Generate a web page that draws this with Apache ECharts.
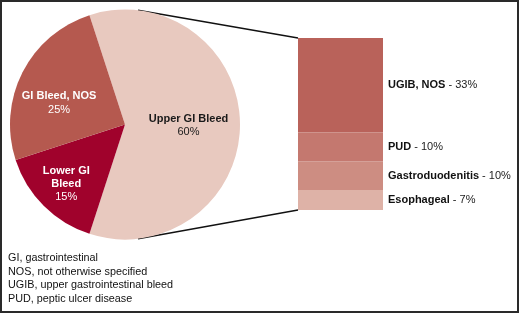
<!DOCTYPE html>
<html><head><meta charset="utf-8">
<script src="https://cdn.jsdelivr.net/npm/echarts@6/dist/echarts.min.js"></script>
<style>
html,body{margin:0;padding:0;background:#fff;}
#frame{position:absolute;left:0;top:0;width:519px;height:313px;box-sizing:border-box;border:2px solid #2a2a2a;}
#chart{position:absolute;left:0;top:0;width:520px;height:314px;}
</style></head>
<body>
<div id="chart"></div>
<div id="frame"></div>
<script>
// Pie data
const pieNames = ['Upper GI Bleed', 'Lower GI\nBleed', 'GI Bleed, NOS'];
const pieValues = [60, 15, 25];
// Breakdown of Upper GI Bleed
const barNames = ['UGIB, NOS', 'PUD', 'Gastroduodenitis', 'Esophageal'];
const barValues = [33, 10, 10, 7];
// Abbreviation notes
const notes = ['GI, gastrointestinal', 'NOS, not otherwise specified', 'UGIB, upper gastrointestinal bleed', 'PUD, peptic ulcer disease'];

const pieColors = ['#E8C9BF', '#A0022C', '#B5594F'];
const pieLabelColors = ['#1a1a1a', '#ffffff', '#ffffff'];
const pieLabelOffsets = [[3, 1], [-16, 17], [-12, 6]];
const barColors = ['#B9625A', '#C4786F', '#CD8D82', '#DEB2A7'];

const chart = echarts.init(document.getElementById('chart'), null, {renderer: 'canvas'});
const font = 'Liberation Sans, Arial, Helvetica, sans-serif';
const cx = 125, cy = 124.5, R = 115;
const fs = 11;

const pieData = pieNames.map((n, i) => ({
  name: n, value: pieValues[i],
  itemStyle: {color: pieColors[i]},
  label: {color: pieLabelColors[i], offset: pieLabelOffsets[i],
    rich: {n: {fontWeight: 'bold', fontSize: fs, color: pieLabelColors[i], lineHeight: 13, align: 'center', fontFamily: font},
           p: {fontSize: fs, color: pieLabelColors[i], lineHeight: 14, align: 'center', fontFamily: font}}}
}));

const barSeries = barNames.map((n, i) => ({
  type: 'bar', stack: 'ugib', name: n, barWidth: '100%',
  data: [barValues[i]],
  itemStyle: {color: barColors[i]},
  label: {show: true, position: 'right', distance: 5,
    formatter: '{n|' + n + '}{v| - ' + barValues[i] + '%}',
    rich: {n: {fontWeight: 'bold', fontSize: fs, color: '#111', fontFamily: font},
           v: {fontSize: fs, color: '#222', fontFamily: font}}}
}));

const option = {
  animation: false,
  textStyle: {fontFamily: font},
  grid: {left: 298, top: 38, width: 85, height: 172},
  xAxis: {type: 'category', data: ['UGIB'], show: false},
  yAxis: {type: 'value', min: 0, max: 60, inverse: true, show: false},
  series: [
    {type: 'pie', center: [cx, cy], radius: [0, R], startAngle: 108, clockwise: true,
     silent: true, label: {show: true, position: 'inside',
       formatter: p => '{n|' + p.name.split('\n').join('}\n{n|') + '}\n{p|' + p.value + '%}'},
     labelLine: {show: false}, itemStyle: {borderWidth: 0},
     data: pieData},
    ...barSeries
  ]
};
chart.setOption(option);

// connector lines from pie edge to bar
const topBar = chart.convertToPixel({xAxisIndex: 0, yAxisIndex: 0}, [0, 0]);
const botBar = chart.convertToPixel({xAxisIndex: 0, yAxisIndex: 0}, [0, barValues.reduce((a, b) => a + b, 0)]);
const barLeft = 298;
const ang = 6.5 * Math.PI / 180;
const pTop = [cx + R * Math.sin(ang), cy - R * Math.cos(ang)];
const pBot = [cx + R * Math.sin(ang), cy + R * Math.cos(ang)];
const graphics = [
  {type: 'line', shape: {x1: pTop[0], y1: pTop[1], x2: barLeft, y2: topBar[1]}, style: {stroke: '#111', lineWidth: 1.3}},
  {type: 'line', shape: {x1: pBot[0], y1: pBot[1], x2: barLeft, y2: botBar[1]}, style: {stroke: '#111', lineWidth: 1.3}}
];
notes.forEach((t, i) => {
  graphics.push({type: 'text', left: 8, top: 252.5 + i * 13.7,
    style: {text: t, fontSize: 10.8, fill: '#111', fontFamily: font}});
});
chart.setOption({graphic: graphics});
</script>
</body></html>
